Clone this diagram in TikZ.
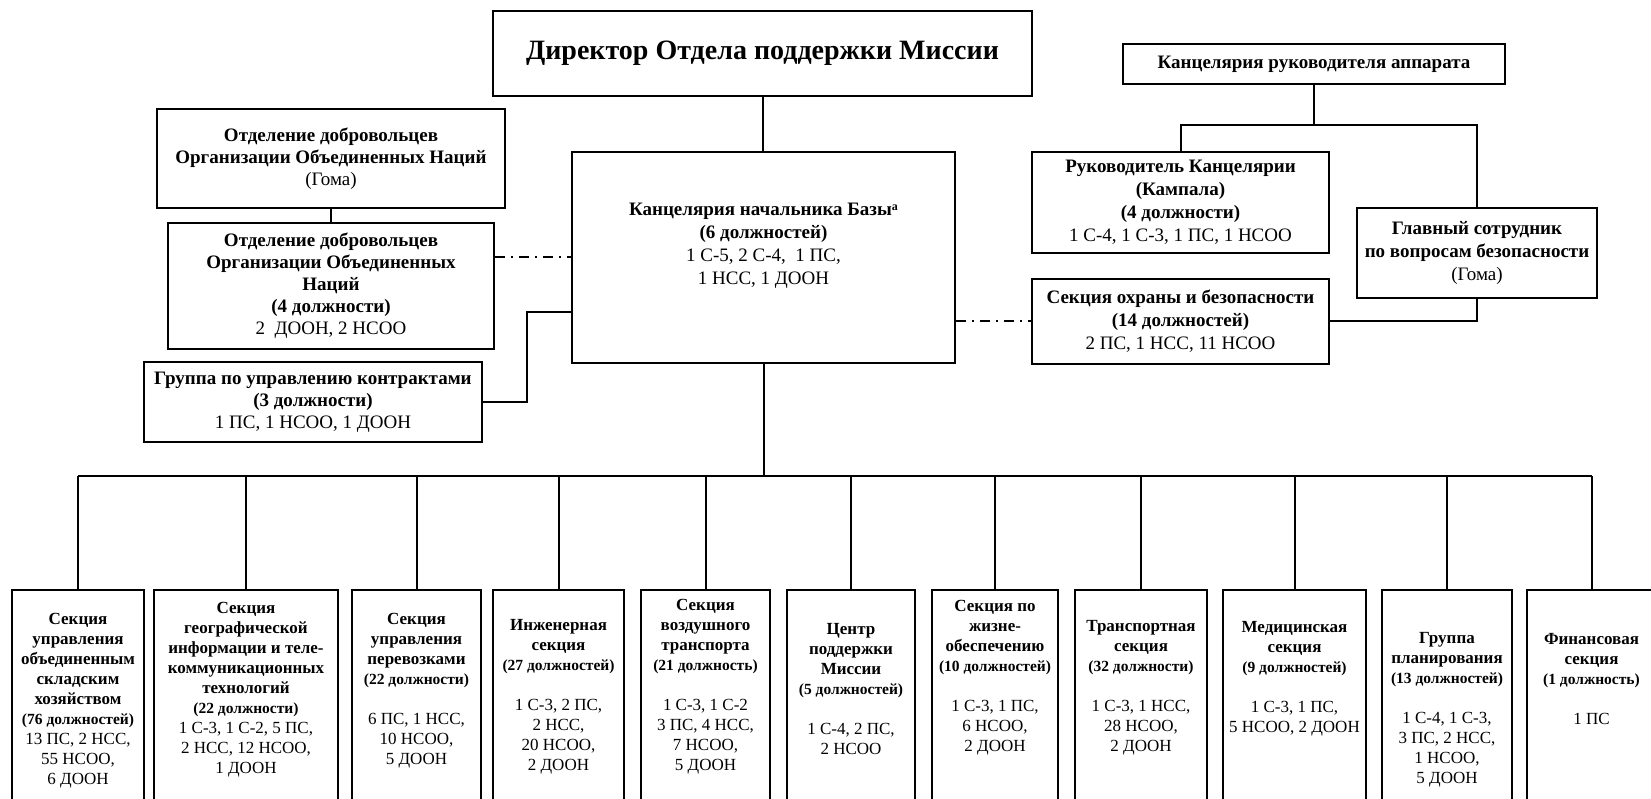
\documentclass[tikz,border=0pt]{standalone}
\usepackage{fontspec}
\setmainfont{Liberation Serif}
\tikzset{
  box/.style={draw, line width=2pt, inner sep=0pt, align=center},
  btext/.style={inner sep=0pt, align=center, font=\fontsize{17}{20}\selectfont},
  conn/.style={line width=2pt},
  busline/.style={line width=2.6pt},
  dashdot/.style={line width=2pt, dash pattern=on 10pt off 6pt on 2pt off 6pt},
  lfont/.style={font=\fontsize{19}{22}\selectfont},
  rfont/.style={font=\fontsize{19}{23}\selectfont},
}
\newcommand{\cnt}[1]{{\fontsize{15.5}{19}\selectfont\textbf{#1}}}
\begin{document}
\begin{tikzpicture}[x=1pt,y=-1pt]
\useasboundingbox (0,0) rectangle (1651,799);
\clip (0,0) rectangle (1651,799);
% top
\node[box, minimum width=539pt, minimum height=85pt, font=\fontsize{28}{31}\selectfont\bfseries] (dir) at (762.5,53.5) {Директор Отдела поддержки Миссии};
\node[box, minimum width=383pt, minimum height=211pt, font=\fontsize{19}{23}\selectfont] (base) at (763.5,257.5)
  {\textbf{Канцелярия начальника Базы{\fontsize{12}{12}\selectfont\raisebox{5pt}{а}}}\\ \textbf{(6 должностей)}\\ 1 С-5, 2 С-4,\ \ 1 ПС,\\ 1 НСС, 1 ДООН\\[4pt]};
% left
\node[box, lfont, minimum width=348pt, minimum height=99pt] (vol1) at (331,158.5)
  {\textbf{Отделение добровольцев}\\ \textbf{Организации Объединенных Наций}\\ (Гома)};
\node[box, lfont, minimum width=326pt, minimum height=126pt] (vol2) at (331,286)
  {\textbf{Отделение добровольцев}\\ \textbf{Организации Объединенных}\\ \textbf{Наций}\\ \textbf{(4 должности)}\\ 2\ \ ДООН, 2 НСОО};
\node[box, lfont, minimum width=338pt, minimum height=80pt] (contr) at (313,402)
  {\textbf{Группа по управлению контрактами}\\ \textbf{(3 должности)}\\ 1 ПС, 1 НСОО, 1 ДООН};
% right
\node[box, font=\fontsize{19}{22}\selectfont\bfseries, minimum width=382pt, minimum height=40pt] (cos) at (1314,64) {Канцелярия руководителя аппарата};
\node[box, rfont, minimum width=297pt, minimum height=101pt] (head) at (1180.5,202.5)
  {\textbf{Руководитель Канцелярии}\\ \textbf{(Кампала)}\\ \textbf{(4 должности)}\\ 1 С-4, 1 С-3, 1 ПС, 1 НСОО};
\node[box, rfont, minimum width=240pt, minimum height=90pt] (schief) at (1477,253)
  {\textbf{Главный сотрудник}\\ \textbf{по вопросам безопасности}\\ (Гома)};
\node[box, rfont, minimum width=297pt, minimum height=85pt] (ssec) at (1180.5,321.5)
  {\textbf{Секция охраны и безопасности}\\ \textbf{(14 должностей)}\\ 2 ПС, 1 НСС, 11 НСОО};
% top connectors
\draw[conn] (dir.south) -- (dir.south |- base.north);
\draw[conn] (vol1.south) -- (vol2.north);
\draw[dashdot] (base.west -| vol2.east) -- (base.west);
\coordinate (k1) at (527,312);
\draw[conn] (contr.east) -| (k1) -- (k1 -| base.west);
\draw[dashdot] (base.east |- ssec.west) -- (ssec.west);
\coordinate (rj) at (1314,125);
\draw[conn] (cos.south) -- (rj);
\draw[conn] (head.north) -- (head.north |- rj) -- (schief.north |- rj) -- (schief.north);
\draw[conn] (schief.south) |- (ssec.east);
% bottom boxes
\foreach \n/\c/\w in {1/78/132, 2/246/184, 3/416.5/129, 4/558.5/131, 5/705.5/129, 6/851/128, 7/995/126, 8/1141/132, 9/1294.5/143, 10/1447/130, 11/1591.5/129}
  \node[box, minimum width=\w pt, minimum height=212pt] (b\n) at (\c,696) {};
\node[btext] (t1) at (b1.center |- 0,701) {\textbf{Секция}\\ \textbf{управления}\\ \textbf{объединенным}\\ \textbf{складским}\\ \textbf{хозяйством}\\ \cnt{(76 должностей)}\\ 13 ПС, 2 НСС,\\ 55 НСОО,\\ 6 ДООН};
\node[btext] (t2) at (b2.center |- 0,690) {\textbf{Секция}\\ \textbf{географической}\\ \textbf{информации и теле-}\\ \textbf{коммуникационных}\\ \textbf{технологий}\\ \cnt{(22 должности)}\\ 1 С-3, 1 С-2, 5 ПС,\\ 2 НСС, 12 НСОО,\\ 1 ДООН};
\node[btext] (t3) at (b3.center |- 0,691) {\textbf{Секция}\\ \textbf{управления}\\ \textbf{перевозками}\\ \cnt{(22 должности)}\\[20pt] 6 ПС, 1 НСС,\\ 10 НСОО,\\ 5 ДООН};
\node[btext] (t4) at (b4.center |- 0,697) {\textbf{Инженерная}\\ \textbf{секция}\\ \cnt{(27 должностей)}\\[20pt] 1 С-3, 2 ПС,\\ 2 НСС,\\ 20 НСОО,\\ 2 ДООН};
\node[btext] (t5) at (b5.center |- 0,687) {\textbf{Секция}\\ \textbf{воздушного}\\ \textbf{транспорта}\\ \cnt{(21 должность)}\\[20pt] 1 С-3, 1 С-2\\ 3 ПС, 4 НСС,\\ 7 НСОО,\\ 5 ДООН};
\node[btext] (t6) at (b6.center |- 0,689) {\textbf{Центр}\\ \textbf{поддержки}\\ \textbf{Миссии}\\ \cnt{(5 должностей)}\\[20pt] 1 С-4, 2 ПС,\\ 2 НСОО};
\node[btext] (t7) at (b7.center |- 0,678) {\textbf{Секция по}\\ \textbf{жизне-}\\ \textbf{обеспечению}\\ \cnt{(10 должностей)}\\[20pt] 1 С-3, 1 ПС,\\ 6 НСОО,\\ 2 ДООН};
\node[btext] (t8) at (b8.center |- 0,688) {\textbf{Транспортная}\\ \textbf{секция}\\ \cnt{(32 должности)}\\[20pt] 1 С-3, 1 НСС,\\ 28 НСОО,\\ 2 ДООН};
\node[btext] (t9) at (b9.center |- 0,679) {\textbf{Медицинская}\\ \textbf{секция}\\ \cnt{(9 должностей)}\\[20pt] 1 С-3, 1 ПС,\\ 5 НСОО, 2 ДООН};
\node[btext] (t10) at (b10.center |- 0,710) {\textbf{Группа}\\ \textbf{планирования}\\ \cnt{(13 должностей)}\\[20pt] 1 С-4, 1 С-3,\\ 3 ПС, 2 НСС,\\ 1 НСОО,\\ 5 ДООН};
\node[btext] (t11) at (b11.center |- 0,679) {\textbf{Финансовая}\\ \textbf{секция}\\ \cnt{(1 должность)}\\[20pt] 1 ПС};
% bus
\coordinate (bus) at (763,476);
\draw[conn] (base.south) -- (base.south |- bus);
\draw[busline] (b1.north |- bus) -- (b11.north |- bus);
\foreach \n in {1,...,11} \draw[conn] (b\n.north |- bus) -- (b\n.north);
\end{tikzpicture}
\end{document}
